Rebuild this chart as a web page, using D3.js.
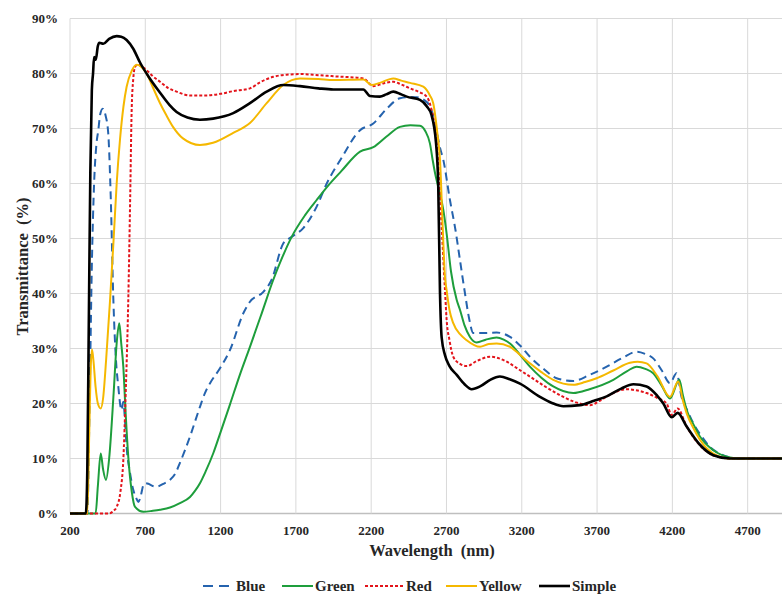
<!DOCTYPE html>
<html>
<head>
<script src="https://d3js.org/d3.v7.min.js"></script>
<style>
  body { margin: 0; background: #fff; }
</style>
</head>
<body>
<script>
// wavelength ticks and transmittance ticks
const xTicks = [200, 700, 1200, 1700, 2200, 2700, 3200, 3700, 4200, 4700];
const yTicks = [0, 10, 20, 30, 40, 50, 60, 70, 80, 90];

// series as [wavelength nm, transmittance %]
const blueData = [[200,0],[315,0],[330,20],[345,45],[360,60],[375,67],[388,69.7],[400,72.5],[417,73.6],[435,72.5],[454,69.1],[470,58],[488,38.8],[505,28],[521,23],[535,19.5],[543,18.8],[554,20.3],[565,17],[576,12.1],[598,7.5],[620,4.3],[640,2.8],[654,2.1],[670,3.2],[685,5],[698,5.5],[720,5.4],[750,5],[776,4.9],[820,5.4],[864,6.1],[900,7.3],[930,9.2],[997,14],[1063,19.4],[1096,21.9],[1130,23.7],[1196,26.4],[1262,29.7],[1351,36.4],[1395,38.5],[1484,40.3],[1539,42.5],[1616,49.1],[1672,50.3],[1749,51.9],[1838,55.8],[1905,60],[2000,64.5],[2126,69.7],[2214,70.9],[2300,73.5],[2391,75.5],[2450,75.7],[2502,75.7],[2550,75.2],[2590,74],[2620,71.5],[2657,66.5],[2679,64.3],[2723,57],[2760,51.5],[2790,46],[2823,40],[2850,35.5],[2878,32.8],[2950,32.8],[3033,32.9],[3122,32.1],[3190,30.5],[3254,28.5],[3340,26.4],[3431,24.6],[3542,24.1],[3650,25.2],[3764,26.7],[3870,28.3],[3963,29.4],[4020,29],[4073,28.2],[4130,26],[4184,23.7],[4228,25.5],[4261,21.2],[4300,18.7],[4339,16.4],[4400,13.8],[4450,12.1],[4520,10.8],[4582,10.2],[4650,10],[4930,10]];
const greenData = [[200,0],[370,0],[385,5],[404,10.9],[420,8],[439,6.1],[460,10],[490,22],[510,31],[527,34.6],[540,31],[554,26.7],[570,18],[587,10.3],[610,4],[632,1.2],[687,0.3],[750,0.5],[798,0.7],[864,1.1],[930,1.9],[997,3],[1030,4.1],[1063,5.5],[1100,7.6],[1152,11],[1200,14.8],[1262,19.8],[1329,25.3],[1395,30.3],[1473,36.4],[1550,42.5],[1610,46.6],[1672,50.3],[1760,54.2],[1838,57],[1920,59.8],[2000,62.2],[2126,65.8],[2214,66.6],[2300,68.5],[2391,70.3],[2460,70.6],[2524,70.5],[2560,69.5],[2590,67.3],[2610,64],[2624,61.9],[2645,59.4],[2679,55.2],[2701,50.9],[2730,44],[2768,38.8],[2790,37],[2820,34.2],[2856,32.1],[2900,31.1],[2960,31.6],[3033,32],[3080,31.6],[3122,30.9],[3190,28.8],[3254,26.7],[3330,24.7],[3409,23.1],[3542,21.9],[3650,22.6],[3808,24.3],[3900,25.9],[3963,26.7],[4020,26.3],[4073,25.5],[4130,23.2],[4184,20.9],[4246,24.3],[4270,21.5],[4295,18.8],[4340,16.2],[4383,14],[4472,11.5],[4582,10.2],[4650,10],[4930,10]];
const redData = [[200,0],[460,0],[490,0.5],[510,1.2],[535,4],[554,9.7],[570,22],[587,38.8],[600,58],[609,72.8],[620,79],[632,81.2],[650,81.6],[680,81.2],[709,80.6],[750,79.5],[798,78.5],[850,77.4],[908,76.7],[997,76],[1100,76],[1200,76.3],[1284,76.8],[1395,77.3],[1462,78.4],[1550,79.4],[1650,79.8],[1727,79.9],[1850,79.7],[1949,79.5],[2148,79.1],[2214,77.7],[2280,78.2],[2347,78.5],[2400,78],[2458,77.3],[2520,76.6],[2568,75.8],[2600,73.5],[2635,67.4],[2668,52.1],[2690,40.6],[2701,35.2],[2720,31.5],[2745,28.5],[2790,27.2],[2834,26.8],[2900,27.7],[2989,28.5],[3050,28.2],[3100,27.6],[3180,26.2],[3254,24.9],[3360,23],[3476,21.2],[3560,20.2],[3653,19.7],[3730,20.7],[3808,21.9],[3896,22.6],[3960,22.4],[4029,21.9],[4100,21],[4162,20],[4195,17.9],[4235,19.1],[4295,15.8],[4383,12.4],[4472,10.6],[4582,10],[4930,10]];
const yellowData = [[200,0],[315,0],[328,15],[337,26],[346,29.8],[355,28],[370,23],[385,20],[404,19.1],[420,21],[440,28],[466,38.8],[490,50],[510,60],[532,68],[555,74],[576,77.6],[610,80.5],[643,81.6],[670,81.3],[709,80],[750,77.5],[798,74.6],[840,72.4],[884,70.3],[950,68.2],[1063,67],[1150,67.4],[1284,69.2],[1395,71],[1506,74.6],[1616,77.9],[1727,79.1],[1850,79],[1949,78.8],[2148,78.9],[2203,77.9],[2258,78.3],[2347,79.1],[2400,78.7],[2458,78.3],[2546,77.6],[2590,76],[2612,74.6],[2640,69],[2657,64.3],[2675,52],[2690,43],[2701,40.6],[2720,37],[2745,34.6],[2790,32.6],[2834,31.5],[2923,30.3],[2980,30.8],[3033,30.9],[3122,30.3],[3190,28.8],[3254,27.3],[3330,25.7],[3409,24.3],[3542,23.4],[3620,23.9],[3697,24.6],[3808,26],[3918,27.4],[3970,27.6],[4029,27.3],[4100,25],[4184,21.2],[4239,24],[4270,20.5],[4295,18.2],[4340,15.5],[4383,13.4],[4472,10.9],[4582,10],[4930,10]];
const simpleData = [[200,0],[305,0],[315,8],[325,35],[335,62],[345,77],[353,80],[360,83],[371,82.5],[385,85],[395,85.6],[421,85.4],[460,86.3],[510,86.8],[540,86.7],[576,86.1],[620,84.5],[665,82],[720,79.5],[798,76.5],[860,74.3],[908,73],[980,72],[1063,71.6],[1150,71.8],[1284,72.8],[1395,74.6],[1506,76.7],[1616,77.9],[1727,77.7],[1850,77.3],[1949,77.1],[2148,77.1],[2192,75.9],[2258,75.8],[2300,76.2],[2347,76.7],[2400,76.2],[2436,75.8],[2524,75.2],[2570,74],[2600,72.5],[2630,67.5],[2645,60],[2657,40],[2668,32],[2690,28.8],[2720,26.8],[2768,25.2],[2820,23.5],[2867,22.6],[2923,23.1],[2990,24.3],[3055,24.9],[3120,24.4],[3188,23.6],[3321,21.2],[3400,20.1],[3476,19.5],[3586,19.7],[3680,20.5],[3764,21.3],[3860,22.7],[3941,23.5],[4029,23.1],[4100,21.4],[4140,20],[4195,17.5],[4235,18.3],[4295,15.8],[4383,12.5],[4472,10.6],[4582,10],[4930,10]];

const seriesNames = ["Blue", "Green", "Red", "Yellow", "Simple"];
const seriesData = [blueData, greenData, redData, yellowData, simpleData];
const seriesColor = ["#2563AE", "#1E9E3C", "#E3141B", "#F5B800", "#000000"];
const seriesDash = ["8,5", null, "3,2", null, null];
const seriesWidth = [2, 2, 2, 2, 2.6];

const W = 782, H = 595;
const svg = d3.select("body").append("svg").attr("width", W).attr("height", H)
  .attr("font-family", "'Liberation Serif', 'Times New Roman', serif")
  .attr("font-weight", "bold");

const x = d3.scaleLinear().domain([200, 4928]).range([70, 782]);
const y = d3.scaleLinear().domain([0, 90]).range([513.5, 18.5]);

// gridlines
svg.append("g").selectAll("line").data(yTicks).join("line")
  .attr("x1", 70).attr("x2", W).attr("y1", d => y(d)).attr("y2", d => y(d))
  .attr("stroke", d => d === 0 ? "#bfbfbf" : "#d9d9d9").attr("stroke-width", d => d === 0 ? 1.5 : 1);
svg.append("g").selectAll("line").data(xTicks).join("line")
  .attr("x1", d => x(d)).attr("x2", d => x(d)).attr("y1", y(90)).attr("y2", y(0))
  .attr("stroke", "#d9d9d9").attr("stroke-width", 1);

// tick labels
svg.append("g").selectAll("text").data(yTicks).join("text")
  .attr("x", 58).attr("y", d => y(d) + 4.5).attr("text-anchor", "end")
  .attr("font-size", 13).attr("fill", "#262626").text(d => d + "%");
svg.append("g").selectAll("text").data(xTicks).join("text")
  .attr("x", d => x(d)).attr("y", 535).attr("text-anchor", "middle")
  .attr("font-size", 13).attr("fill", "#262626").text(d => d);

// axis titles
svg.append("text").attr("x", 432).attr("y", 556).attr("text-anchor", "middle")
  .attr("font-size", 16.5).attr("fill", "#262626")
  .attr("xml:space", "preserve").text("Wavelength  (nm)");
svg.append("text").attr("transform", "translate(28,266.5) rotate(-90)")
  .attr("text-anchor", "middle").attr("font-size", 16.5).attr("fill", "#262626")
  .attr("xml:space", "preserve").text("Transmittance  (%)");

// curves
const line = d3.line().x(d => x(d[0])).y(d => y(d[1])).curve(d3.curveMonotoneX);
seriesData.forEach((data, i) => {
  svg.append("path").datum(data)
    .attr("fill", "none")
    .attr("stroke", seriesColor[i])
    .attr("stroke-width", seriesWidth[i])
    .attr("stroke-dasharray", seriesDash[i])
    .attr("stroke-linejoin", "round")
    .attr("d", line);
});

// legend
const legendX = [203, 282, 365, 446, 539];
const lg = svg.append("g");
seriesNames.forEach((name, i) => {
  const lx = legendX[i];
  lg.append("line").attr("x1", lx).attr("x2", lx + (i === 2 ? 39 : 31))
    .attr("y1", 586).attr("y2", 586)
    .attr("stroke", seriesColor[i]).attr("stroke-width", seriesWidth[i])
    .attr("stroke-dasharray", i === 0 ? "10,6" : seriesDash[i]);
  lg.append("text").attr("x", lx + (i === 2 ? 41 : 33)).attr("y", 591)
    .attr("font-size", 15).attr("fill", "#262626").text(name);
});
</script>
</body>
</html>
